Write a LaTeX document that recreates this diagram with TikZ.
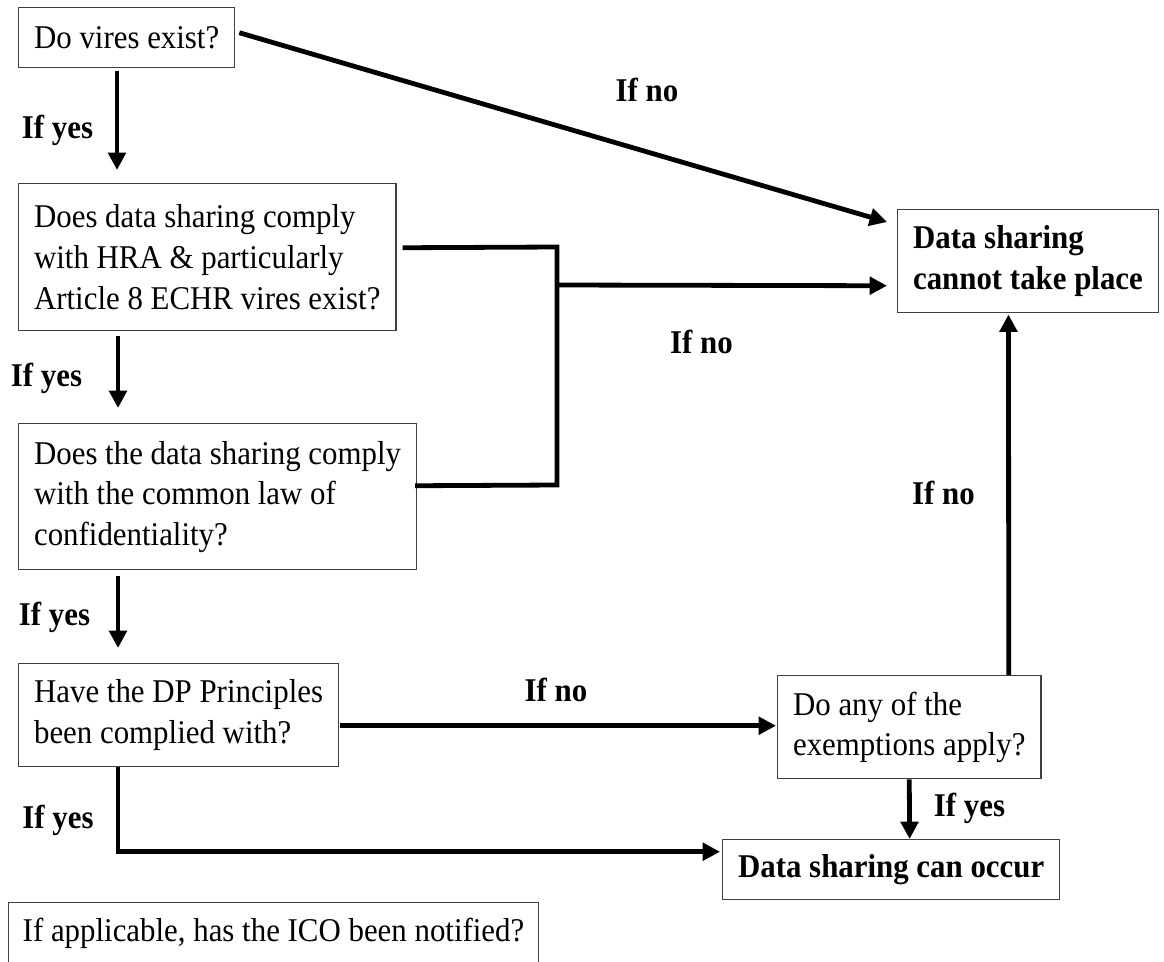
\documentclass[tikz,border=0pt]{standalone}
\usepackage{fontspec}
\setmainfont{Liberation Serif}[FakeStretch=0.93]
\usetikzlibrary{arrows.meta,calc}
\newcommand\bodyfont{\fontsize{24.9pt}{30.4pt}\selectfont}
\begin{document}
\begin{tikzpicture}[x=0.75pt,y=-0.75pt,
  box/.style={draw=black!75,line width=1.1pt,anchor=north west,inner xsep=11.5pt,inner ysep=0pt,align=left,font=\bodyfont},
  lbl/.style={font=\bodyfont\bfseries,inner sep=0pt},
  conn/.style={line width=3.6pt},
  arr/.style={conn,-{Triangle[length=13pt,width=13pt]}},
]
\useasboundingbox (0,0) rectangle (1164,961);
\clip (0,0) rectangle (1164,961);

% boxes
\node[box,minimum height=45pt] (b1) at (18,7) {Do vires exist?};
\node[box,minimum height=110.25pt] (b2) at (18,183) {Does data sharing comply\\with HRA \& particularly\\Article 8 ECHR vires exist?};
\node[box,minimum height=109.5pt] (b3) at (18,423) {Does the data sharing comply\\with the common law of\\confidentiality?};
\node[box,minimum height=77.25pt] (b4) at (18,663) {Have the DP Principles\\been complied with?};
\node[box,minimum height=77.25pt] (b5) at (777,675) {Do any of the\\exemptions apply?};
\node[box,minimum height=77.25pt,font=\bodyfont\bfseries] (no) at (897,209) {Data sharing\\cannot take place};
\node[box,minimum height=45pt,font=\bodyfont\bfseries] (yes) at (722,839) {Data sharing can occur};
\node[box,minimum height=46.5pt,inner xsep=10.5pt] (ico) at (8,902) {If applicable, has the ICO been notified?};

% connectors
\draw[arr] ($(b1.south west)+(99,3)$) -- ($(b2.north west)+(99,-13)$);
\draw[arr] ($(b2.south west)+(100,5)$) -- ($(b3.north west)+(100,-15)$);
\draw[arr] ($(b3.south west)+(100,6)$) -- ($(b4.north west)+(100,-15)$);
\draw[arr] ($(b1.east)+(4,-5)$) -- ($(no.north west)+(-10,13)$);

\coordinate (jt) at (557,247);
\coordinate (jb) at (557,485);
\coordinate (jm) at (557,285);
\draw[conn] ($(b2.east)+(6,-9.5)$) -- (jt) -- (jb) -- ($(b3.east)+(-2,-11)$);
\draw[arr] (jm) -- ($(no.west)+(-10,24.5)$);

\draw[arr] ($(b4.east)+(1,10.5)$) -- ($(b5.west)+(-1,-1.5)$);
\draw[arr] ($(b5.north)+(99.5,0)$) -- ($(no.south)+(-19.5,1)$);
\draw[arr] (b5.south) -- ($(yes.north)+(18.5,0)$);
\draw[arr] ($(b4.south west)+(100,0)$) |- ($(yes.west)+(-2,-18)$);

% labels
\node[lbl] (l1) at (57.5,130) {If yes};
\node[lbl] (l2) at (46.5,378) {If yes};
\node[lbl] (l3) at (54.5,617) {If yes};
\node[lbl] (l4) at (58,820) {If yes};
\node[lbl] (l5) at (969.5,808) {If yes};
\node[lbl] (n1) at (647,90) {If no};
\node[lbl] (n2) at (701.5,342) {If no};
\node[lbl] (n3) at (943.5,493) {If no};
\node[lbl] (n4) at (556,690) {If no};
\end{tikzpicture}
\end{document}
